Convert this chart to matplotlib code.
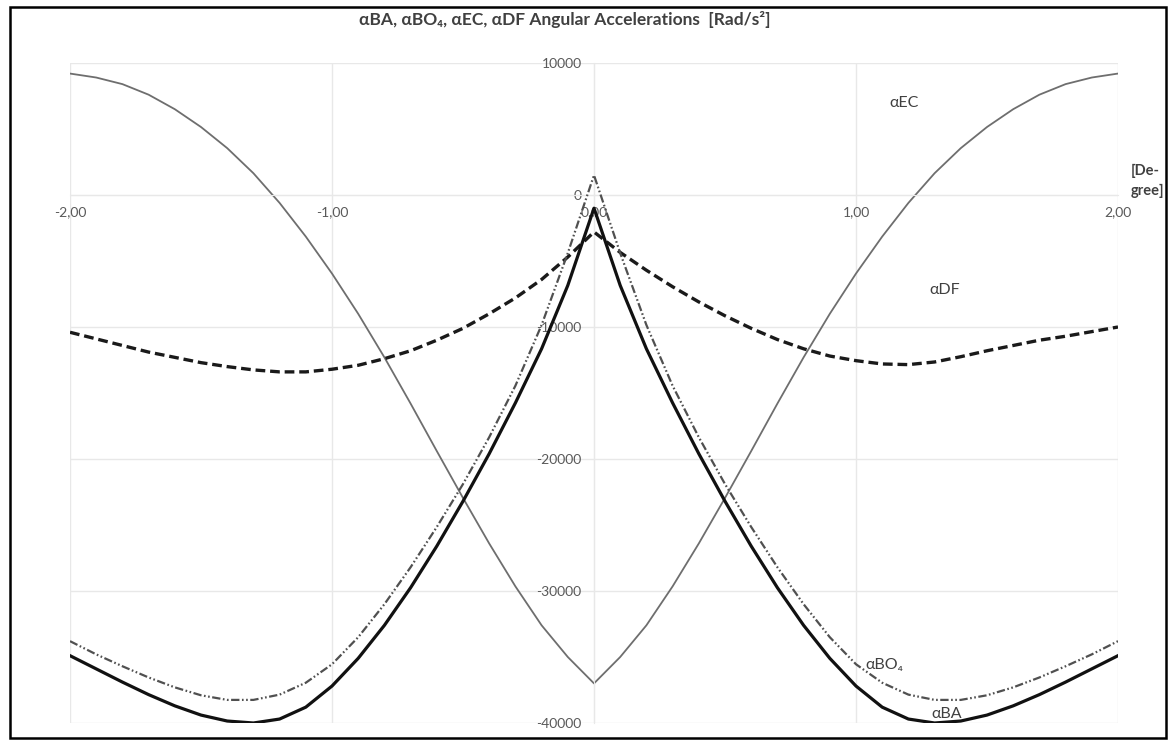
import matplotlib
matplotlib.use("Agg")

import matplotlib.pyplot as plt
from matplotlib.patches import Rectangle
from matplotlib.ticker import FixedLocator, FuncFormatter

# crank angle [degree]
angle = [-2.0, -1.9, -1.8, -1.7, -1.6, -1.5, -1.4, -1.3, -1.2, -1.1, -1.0,
         -0.9, -0.8, -0.7, -0.6, -0.5, -0.4, -0.3, -0.2, -0.1, 0.0,
         0.1, 0.2, 0.3, 0.4, 0.5, 0.6, 0.7, 0.8, 0.9, 1.0,
         1.1, 1.2, 1.3, 1.4, 1.5, 1.6, 1.7, 1.8, 1.9, 2.0]

# angular accelerations [rad/s^2]
alpha_ec = [9200, 8900, 8400, 7600, 6500, 5150, 3550, 1650, -600, -3150, -5950,
            -9000, -12300, -15800, -19400, -22950, -26400, -29650, -32600, -35000, -37000,
            -35000, -32600, -29650, -26400, -22950, -19400, -15800, -12300, -9000, -5950,
            -3150, -600, 1650, 3550, 5150, 6500, 7600, 8400, 8900, 9200]

alpha_ba = [-34900, -35900, -36900, -37850, -38700, -39400, -39850, -40000, -39700, -38800, -37200,
            -35100, -32600, -29750, -26600, -23200, -19600, -15750, -11650, -6850, -1000,
            -6850, -11650, -15750, -19600, -23200, -26600, -29750, -32600, -35100, -37200,
            -38800, -39700, -40000, -39850, -39400, -38700, -37850, -36900, -35900, -34900]

alpha_bo4 = [-33800, -34800, -35700, -36550, -37300, -37900, -38250, -38250, -37850, -36950, -35550,
             -33500, -31000, -28200, -25150, -21900, -18350, -14450, -9850, -4400, 1500,
             -4400, -9850, -14450, -18350, -21900, -25150, -28200, -31000, -33500, -35550,
             -36950, -37850, -38250, -38250, -37900, -37300, -36550, -35700, -34800, -33800]

alpha_df = [-10400, -10900, -11400, -11900, -12300, -12700, -13000, -13250, -13400, -13400, -13200,
            -12900, -12400, -11800, -11000, -10100, -9000, -7800, -6400, -4700, -2800,
            -4350, -5700, -6950, -8100, -9150, -10100, -10950, -11650, -12200, -12550,
            -12800, -12850, -12650, -12250, -11800, -11400, -11000, -10700, -10350, -10000]

x_ticks = [-2.0, -1.0, 0.0, 1.0, 2.0]
y_ticks = [-40000, -30000, -20000, -10000, 0, 10000]

FONT = ["Lato", "DejaVu Sans"]
TXT = "#404040"


def main():
    plt.rcParams["font.family"] = FONT
    plt.rcParams["lines.scale_dashes"] = False

    fig = plt.figure(figsize=(11.69, 7.44), dpi=100)
    ax = fig.add_axes([70 / 1169, 1 - 723 / 744, 1048 / 1169, 660 / 744])

    ax.set_xlim(-2, 2)
    ax.set_ylim(-40000, 10000)

    # gridlines like excel
    for yt in y_ticks:
        ax.axhline(yt, color="#e8e8e8", lw=1.0, zorder=0)
    for xt in x_ticks:
        ax.axvline(xt, color="#e8e8e8", lw=1.0, zorder=0)

    ax.plot(angle, alpha_ec, color="#6e6e6e", lw=1.3, zorder=2)
    ax.plot(angle, alpha_df, color="#1a1a1a", lw=2.4, dashes=(7, 3.5), zorder=3)
    ax.plot(angle, alpha_bo4, color="#505050", lw=1.6,
            dashes=(6, 1.8, 1.2, 1.8, 1.2, 1.8), zorder=3)
    ax.plot(angle, alpha_ba, color="#111111", lw=2.3, zorder=4)

    for s in ["top", "right"]:
        ax.spines[s].set_visible(False)
    ax.spines["left"].set_position(("data", 0))
    ax.spines["bottom"].set_position(("data", 0))
    ax.spines["left"].set_color("#e8e8e8")
    ax.spines["bottom"].set_color("#e8e8e8")

    ax.xaxis.set_major_locator(FixedLocator(x_ticks))
    ax.yaxis.set_major_locator(FixedLocator(y_ticks))
    ax.xaxis.set_major_formatter(FuncFormatter(lambda v, p: f"{v:.2f}".replace(".", ",")))
    ax.yaxis.set_major_formatter(FuncFormatter(lambda v, p: f"{int(v)}"))
    ax.tick_params(axis="x", length=0, pad=8, labelsize=10, labelcolor="#595959")
    ax.tick_params(axis="y", length=0, pad=9, labelsize=10, labelcolor="#595959")

    # curve labels
    ax.text(1.185, 7000, "αEC", fontsize=11.5, color=TXT, ha="center", va="center")
    ax.text(1.34, -7200, "αDF", fontsize=11.5, color=TXT, ha="center", va="center")
    ax.text(1.11, -35600, "αBO₄", fontsize=11.5, color=TXT, ha="center", va="center")
    ax.text(1.345, -39300, "αBA", fontsize=11.5, color=TXT, ha="center", va="center")

    fig.text(565 / 1169, 1 - 20 / 744,
             "αBA, αBO₄, αEC, αDF Angular Accelerations  [Rad/s²]",
             fontsize=12.5, fontweight="bold", color=TXT, ha="center", va="center")
    fig.text(1131 / 1169, 1 - 181 / 744, "[De-\ngree]", fontsize=10.5,
             fontweight="bold", color=TXT, ha="left", va="center", linespacing=1.5)

    # outer frame
    fig.patches.append(Rectangle((10 / 1169, 6 / 744), 1156 / 1169, 731 / 744,
                                 transform=fig.transFigure, fill=False,
                                 edgecolor="black", lw=1.8))

    fig.savefig("out.png", dpi=100)
    plt.close(fig)


if __name__ == "__main__":
    main()
